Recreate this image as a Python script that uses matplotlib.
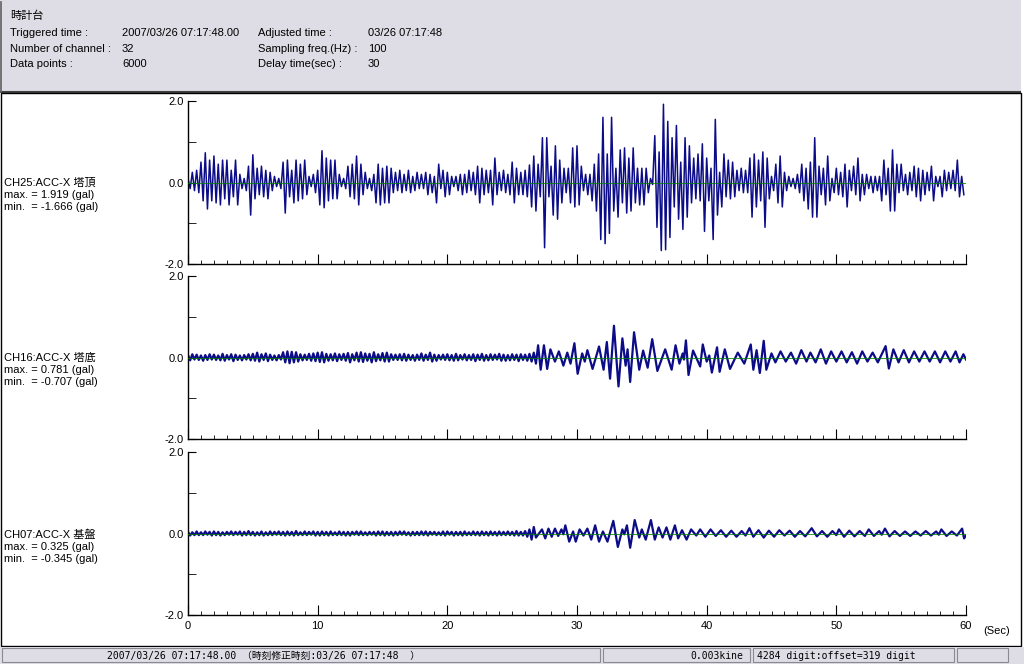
import numpy as np
import matplotlib.pyplot as plt
from matplotlib.patches import Rectangle
from matplotlib.lines import Line2D

plt.rcParams['font.family'] = ['Liberation Sans', 'Noto Sans CJK JP']

# ---- data (gal) ----
# CH25 top of tower: alternating peaks, 6 per second, 0..60 s
ch25_v = [
    0.10, -0.15, 0.25, -0.20, 0.30, -0.25,
    0.50, -0.45, 0.73, -0.65, 0.55, -0.45,
    0.65, -0.50, 0.45, -0.55, 0.55, -0.40,
    0.55, -0.55, 0.30, -0.35, 0.55, -0.55,
    0.20, -0.15, 0.10, -0.20, 0.40, -0.80,
    0.68, -0.40, 0.35, -0.30, 0.40, -0.35,
    0.30, -0.40, 0.25, -0.20, 0.15, -0.10,
    0.10, -0.15, 0.50, -0.75, 0.55, -0.35,
    0.30, -0.50, 0.55, -0.45, 0.45, -0.40,
    0.55, -0.30, 0.15, -0.10, 0.20, -0.25,
    0.30, -0.55, 0.78, -0.62, 0.60, -0.45,
    0.55, -0.40, 0.55, -0.40, 0.20, -0.10,
    0.10, -0.15, 0.40, -0.35, 0.45, -0.40,
    0.65, -0.55, 0.45, -0.30, 0.25, -0.15,
    0.10, -0.20, 0.20, -0.50, 0.45, -0.55,
    0.35, -0.50, 0.40, -0.50, 0.35, -0.25,
    0.25, -0.20, 0.30, -0.25, 0.20, -0.20,
    0.30, -0.25, 0.15, -0.20, 0.25, -0.15,
    0.20, -0.15, 0.25, -0.30, 0.20, -0.25,
    0.15, -0.50, 0.45, -0.15, 0.30, -0.35,
    0.25, -0.30, 0.15, -0.10, 0.15, -0.20,
    0.20, -0.30, 0.20, -0.25, 0.30, -0.20,
    0.25, -0.30, 0.40, -0.50, 0.35, -0.30,
    0.30, -0.25, 0.30, -0.55, 0.60, -0.30,
    0.25, -0.20, 0.30, -0.25, 0.20, -0.30,
    0.50, -0.50, 0.35, -0.30, 0.25, -0.30,
    0.30, -0.35, 0.43, -0.60, 0.65, -0.70,
    0.45, -0.35, 1.10, -1.60, 1.10, -0.35,
    0.40, -0.80, 0.90, -0.90, 0.55, -0.50,
    0.35, -0.25, 0.35, -0.50, 0.85, -0.60,
    0.90, -0.55, 0.40, -0.20, 0.20, -0.30,
    0.20, -0.45, 0.45, -0.70, 0.70, -1.40,
    1.60, -1.50, 0.70, -1.25, 1.60, -0.70,
    0.35, -0.85, 0.80, -0.50, 0.85, -0.75,
    0.60, -0.70, 0.85, -0.50, 0.35, -0.55,
    0.35, -0.55, 0.35, -0.25, 0.10, -0.05,
    1.15, -1.10, 0.75, -1.67, 1.92, -1.65,
    1.50, -1.35, 1.10, -0.60, 1.40, -0.90,
    0.50, -1.15, 1.10, -0.85, 0.90, -0.50,
    0.60, -0.40, 0.70, -0.45, 0.95, -1.20,
    0.60, -0.45, 0.35, -1.40, 1.55, -0.80,
    0.25, -0.60, 0.70, -0.35, 0.55, -0.40,
    0.50, -0.35, 0.30, -0.20, 0.35, -0.25,
    0.30, -0.25, 0.60, -0.85, 0.70, -0.60,
    0.55, -0.45, 0.75, -1.10, 0.60, -0.40,
    0.15, -0.20, 0.45, -0.50, 0.65, -0.60,
    0.25, -0.20, 0.15, -0.10, 0.10, -0.15,
    0.20, -0.25, 0.45, -0.45, 0.35, -0.65,
    0.50, -0.85, 1.10, -0.85, 0.40, -0.30,
    0.35, -0.55, 0.65, -0.45, 0.10, -0.25,
    0.35, -0.30, 0.25, -0.35, 0.45, -0.60,
    0.30, -0.20, 0.40, -0.30, 0.60, -0.45,
    0.20, -0.30, 0.20, -0.15, 0.15, -0.25,
    0.15, -0.20, 0.15, -0.45, 0.55, -0.30,
    0.35, -0.70, 0.80, -0.70, 0.45, -0.25,
    0.45, -0.20, 0.20, -0.30, 0.25, -0.20,
    0.40, -0.35, 0.35, -0.45, 0.30, -0.30,
    0.25, -0.20, 0.40, -0.45, 0.15, -0.10,
    0.15, -0.35, 0.30, -0.20, 0.25, -0.15,
    0.30, -0.20, 0.55, -0.35, 0.15, -0.30,
]

# CH16 bottom of tower: quiet part 0..27 s (6 per second), then event peaks with times
ch16_pre = [
    0.06, -0.07, 0.08, -0.05, 0.07, -0.06,
    0.05, -0.08, 0.06, -0.06, 0.08, -0.05,
    0.07, -0.06, 0.05, -0.07, 0.09, -0.08,
    0.06, -0.05, 0.08, -0.09, 0.07, -0.06,
    0.05, -0.07, 0.06, -0.05, 0.08, -0.07,
    0.09, -0.08, 0.12, -0.10, 0.08, -0.06,
    0.10, -0.09, 0.07, -0.06, 0.05, -0.07,
    0.06, -0.05, 0.13, -0.12, 0.15, -0.14,
    0.14, -0.12, 0.13, -0.10, 0.08, -0.07,
    0.07, -0.06, 0.09, -0.08, 0.10, -0.09,
    0.12, -0.11, 0.13, -0.12, 0.09, -0.08,
    0.08, -0.07, 0.10, -0.09, 0.08, -0.06,
    0.09, -0.08, 0.11, -0.12, 0.08, -0.07,
    0.12, -0.10, 0.13, -0.11, 0.10, -0.08,
    0.09, -0.12, 0.13, -0.09, 0.08, -0.07,
    0.11, -0.10, 0.12, -0.10, 0.08, -0.06,
    0.07, -0.06, 0.08, -0.07, 0.09, -0.08,
    0.07, -0.06, 0.06, -0.08, 0.07, -0.06,
    0.10, -0.08, 0.07, -0.06, 0.12, -0.10,
    0.07, -0.08, 0.06, -0.05, 0.07, -0.06,
    0.08, -0.07, 0.06, -0.08, 0.09, -0.07,
    0.06, -0.05, 0.08, -0.07, 0.06, -0.06,
    0.08, -0.09, 0.07, -0.06, 0.09, -0.08,
    0.06, -0.07, 0.08, -0.06, 0.07, -0.05,
    0.09, -0.08, 0.07, -0.08, 0.06, -0.07,
    0.08, -0.06, 0.07, -0.09, 0.08, -0.06,
    0.07, -0.08, 0.09, -0.10, 0.12, -0.15,
]
ch16_post_t = [27.0, 27.2, 27.45, 27.7, 27.95, 28.3, 28.6, 28.95, 29.25, 29.5,
               29.8, 30.05, 30.4, 30.6, 30.8, 31.2, 31.7, 32.05, 32.3, 32.55,
               32.85, 33.2, 33.5, 33.75, 33.9, 34.1, 34.4, 34.8, 35.1, 35.45,
               35.8, 36.2, 36.8, 37.3, 37.6, 37.9, 38.15, 38.25, 38.4, 38.6,
               38.95, 39.5, 39.7, 40.0, 40.2, 40.4, 40.8, 41.0, 41.4, 41.8,
               42.4, 42.9, 43.4, 43.6, 43.85, 44.1, 44.4, 44.6, 45.0, 45.3,
               45.7, 46.1, 46.5, 46.9, 47.3, 47.7, 48.0, 48.4, 48.8, 49.2,
               49.6, 50.0, 50.4, 50.8, 51.2, 51.6, 52.0, 52.4, 52.8, 53.2,
               53.8, 54.05, 54.4, 54.8, 55.2, 55.6, 56.0, 56.4, 56.8, 57.2,
               57.6, 58.0, 58.4, 58.8, 59.2, 59.5, 59.8, 60.0]
ch16_post_v = [0.30, -0.30, 0.30, -0.28, 0.20, -0.10, 0.15, -0.20, 0.12, -0.15,
               0.35, -0.40, 0.10, -0.10, 0.18, -0.28, 0.27, -0.30, 0.38, -0.52,
               0.78, -0.71, 0.47, -0.20, 0.20, -0.60, 0.62, -0.30, 0.17, -0.25,
               0.45, -0.33, 0.20, -0.30, 0.30, -0.15, 0.10, -0.05, 0.42, -0.43,
               0.17, -0.22, 0.32, -0.10, 0.05, -0.37, 0.25, -0.35, 0.20, -0.28,
               0.12, -0.15, 0.32, -0.30, 0.18, -0.38, 0.41, -0.30, 0.10, -0.12,
               0.15, -0.10, 0.12, -0.15, 0.18, -0.10, 0.12, -0.12, 0.20, -0.15,
               0.15, -0.10, 0.15, -0.12, 0.13, -0.15, 0.15, -0.10, 0.12, -0.12,
               0.28, -0.27, 0.20, -0.12, 0.18, -0.12, 0.15, -0.10, 0.15, -0.10,
               0.15, -0.12, 0.15, -0.10, 0.15, -0.12, 0.08, -0.05]

# CH07 bedrock
ch07_pre = [
    0.04, -0.05, 0.03, -0.04, 0.05, -0.04,
    0.03, -0.04, 0.05, -0.03, 0.04, -0.05,
    0.05, -0.04, 0.04, -0.05, 0.03, -0.04,
    0.04, -0.03, 0.05, -0.04, 0.04, -0.03,
    0.05, -0.05, 0.04, -0.04, 0.06, -0.04,
    0.04, -0.05, 0.03, -0.04, 0.05, -0.05,
    0.03, -0.04, 0.05, -0.04, 0.04, -0.03,
    0.05, -0.04, 0.04, -0.05, 0.05, -0.04,
    0.04, -0.05, 0.06, -0.04, 0.03, -0.04,
    0.05, -0.04, 0.04, -0.03, 0.05, -0.05,
    0.04, -0.05, 0.05, -0.04, 0.04, -0.05,
    0.05, -0.04, 0.03, -0.04, 0.05, -0.04,
    0.04, -0.05, 0.04, -0.05, 0.04, -0.03,
    0.05, -0.04, 0.05, -0.04, 0.03, -0.04,
    0.04, -0.03, 0.04, -0.05, 0.05, -0.04,
    0.05, -0.05, 0.04, -0.04, 0.04, -0.05,
    0.04, -0.04, 0.05, -0.03, 0.05, -0.04,
    0.03, -0.05, 0.04, -0.04, 0.04, -0.04,
    0.05, -0.04, 0.05, -0.05, 0.04, -0.03,
    0.04, -0.04, 0.03, -0.04, 0.05, -0.05,
    0.05, -0.03, 0.04, -0.05, 0.04, -0.04,
    0.04, -0.05, 0.05, -0.04, 0.03, -0.04,
    0.05, -0.04, 0.04, -0.05, 0.05, -0.04,
    0.04, -0.05, 0.05, -0.04, 0.04, -0.05,
    0.05, -0.04, 0.04, -0.04, 0.05, -0.04,
    0.04, -0.05, 0.06, -0.05, 0.04, -0.05,
    0.06, -0.08, 0.10, -0.15, 0.16, -0.10,
]
ch07_post_t = [27.3, 27.55, 27.8, 28.05, 28.3, 28.55, 28.8, 28.95, 29.1, 29.4,
               29.7, 29.9, 30.2, 30.5, 30.8, 31.1, 31.4, 31.7, 32.0, 32.35,
               32.8, 33.15, 33.5, 33.65, 33.85, 34.1, 34.45, 34.8, 35.0, 35.3,
               35.7, 36.0, 36.3, 36.6, 36.9, 37.2, 37.55, 37.8, 38.1, 38.45,
               38.8, 39.2, 39.5, 39.9, 40.3, 40.7, 41.1, 41.5, 41.9, 42.3,
               42.7, 43.0, 43.3, 43.6, 44.0, 44.4, 44.8, 45.2, 45.6, 46.0,
               46.4, 46.8, 47.2, 47.6, 48.1, 48.5, 48.9, 49.3, 49.7, 50.0,
               50.2, 50.6, 51.0, 51.4, 51.8, 52.2, 52.5, 52.9, 53.3, 53.5,
               53.75, 54.1, 54.5, 54.9, 55.3, 55.7, 56.1, 56.5, 56.9, 57.3,
               57.7, 57.9, 58.1, 58.5, 58.9, 59.3, 59.7, 59.85, 60.0]
ch07_post_v = [0.10, -0.12, 0.12, -0.08, 0.12, -0.06, 0.10, -0.02, 0.20, -0.20,
               0.05, -0.20, 0.10, -0.05, 0.12, -0.15, 0.20, -0.20, 0.05, -0.20,
               0.31, -0.33, 0.10, -0.02, 0.20, -0.35, 0.33, -0.10, 0.10, -0.15,
               0.33, -0.15, 0.15, -0.10, 0.15, -0.15, 0.20, -0.12, 0.08, -0.15,
               0.10, -0.05, 0.10, -0.08, 0.10, -0.06, 0.08, -0.08, 0.07, -0.08,
               0.06, -0.05, 0.13, -0.08, 0.08, -0.10, 0.07, -0.08, 0.08, -0.05,
               0.07, -0.08, 0.06, -0.07, 0.13, -0.07, 0.06, -0.08, 0.06, -0.04,
               0.10, -0.08, 0.07, -0.07, 0.06, -0.06, 0.10, -0.06, 0.06, -0.03,
               0.12, -0.07, 0.06, -0.06, 0.05, -0.06, 0.05, -0.05, 0.06, -0.05,
               0.05, -0.03, 0.10, -0.06, 0.05, -0.05, 0.12, -0.12, -0.05]

channels = ['CH25:ACC-X 塔頂', 'CH16:ACC-X 塔底', 'CH07:ACC-X 基盤']
ch_max = ['1.919', '0.781', '0.325']
ch_min = ['-1.666', '-0.707', '-0.345']

t25 = np.arange(len(ch25_v)) / 6.0
t16 = np.concatenate([np.arange(len(ch16_pre)) / 6.0, ch16_post_t])
v16 = np.concatenate([ch16_pre, ch16_post_v])
t07 = np.concatenate([np.arange(len(ch07_pre)) / 6.0, ch07_post_t])
v07 = np.concatenate([ch07_pre, ch07_post_v])
series = [(t25, np.array(ch25_v)), (t16, v16), (t07, v07)]
widths = [1.1, 1.6, 1.6]

W, H = 1024, 664
def fx(x):
    return x / W
def fy(y):
    return 1 - y / H

fig = plt.figure(figsize=(W / 100, H / 100), dpi=100)
fig.patch.set_facecolor('white')

grey = '#dedde5'
bg = dict(transform=fig.transFigure, zorder=-10)
# header panel
fig.add_artist(Rectangle((0, fy(92)), fx(1021), 92 / H, facecolor=grey, edgecolor='none', **bg))
fig.add_artist(Line2D([0, fx(1020)], [fy(92), fy(92)], color='#404040', lw=1.5, **bg))
fig.add_artist(Line2D([fx(1), fx(1)], [fy(2), fy(92)], color='#606060', lw=1.2, **bg))
# plot panel border
fig.add_artist(Rectangle((fx(0.5), fy(646)), fx(1020), (646 - 93) / H,
                         facecolor='white', edgecolor='black', lw=1, **bg))
# status bar
fig.add_artist(Rectangle((0, 0), 1, fy(647), facecolor=grey, edgecolor='none', **bg))
for x0, x1 in [(2, 600), (603, 750), (753, 954), (957, 1008)]:
    fig.add_artist(Rectangle((fx(x0), fy(662)), fx(x1 - x0), 14 / H,
                             facecolor=grey, edgecolor='#8a8a90', lw=0.8, **bg))

hdr = dict(fontsize=8, va='center', color='black')
fig.text(fx(10), fy(16), '時計台', **hdr)
rows = [('Triggered time :', '2007/03/26 07:17:48.00', 'Adjusted time :', '03/26 07:17:48'),
        ('Number of channel :', '32', 'Sampling freq.(Hz) :', '100'),
        ('Data points :', '6000', 'Delay time(sec) :', '30')]
for i, r in enumerate(rows):
    y = fy(33 + i * 15.5)
    for x, s in zip([10, 122, 258, 368], r):
        fig.text(fx(x), y, s, **hdr)

mono = ['DejaVu Sans Mono', 'Noto Sans CJK JP']
fig.text(fx(107), fy(656), '2007/03/26 07:17:48.00 （時刻修正時刻:03/26 07:17:48  ）',
         family=mono, fontsize=7, va='center')
fig.text(fx(743), fy(656), '0.003kine', family=mono, fontsize=7, va='center', ha='right')
fig.text(fx(757), fy(656), '4284 digit:offset=319 digit', family=mono, fontsize=7, va='center')

tops = [101, 276, 452]
zeros = [183, 358, 535]
for i, (t, v) in enumerate(series):
    ax = fig.add_axes([fx(188), fy(tops[i] + 163), fx(778), 163 / H])
    ax.patch.set_alpha(0)
    ax.plot(t, v, color='#0c0c88', lw=widths[i], zorder=2)
    ax.axhline(0, color='#008000', lw=0.7, zorder=3, alpha=0.8)
    ax.set_xlim(0, 60)
    ax.set_ylim(-2, 2)
    for s in ['top', 'right']:
        ax.spines[s].set_visible(False)
    ax.spines['left'].set_linewidth(1.0)
    ax.spines['bottom'].set_linewidth(1.0)
    ax.set_yticks([-2, 0, 2])
    ax.set_yticklabels(['-2.0', '0.0', '2.0'])
    ax.set_yticks([-1, 1], minor=True)
    ax.set_xticks(np.arange(0, 61, 10))
    ax.set_xticks(np.arange(0, 61, 1), minor=True)
    ax.tick_params(axis='y', which='both', direction='in', length=6, labelsize=8, pad=3)
    ax.tick_params(axis='x', which='major', direction='in', length=7, labelsize=8, pad=4)
    ax.tick_params(axis='x', which='minor', direction='in', length=3)
    if i < 2:
        ax.tick_params(axis='x', labelbottom=False)
    lab = dict(fontsize=8, va='center')
    fig.text(fx(4), fy(zeros[i]), channels[i], **lab)
    fig.text(fx(4), fy(zeros[i] + 12), 'max. = ' + ch_max[i] + ' (gal)', **lab)
    fig.text(fx(4), fy(zeros[i] + 24), 'min.  = ' + ch_min[i] + ' (gal)', **lab)

fig.text(fx(983), fy(631), '(Sec)', fontsize=8, va='center')

fig.savefig('out.png', dpi=100)
